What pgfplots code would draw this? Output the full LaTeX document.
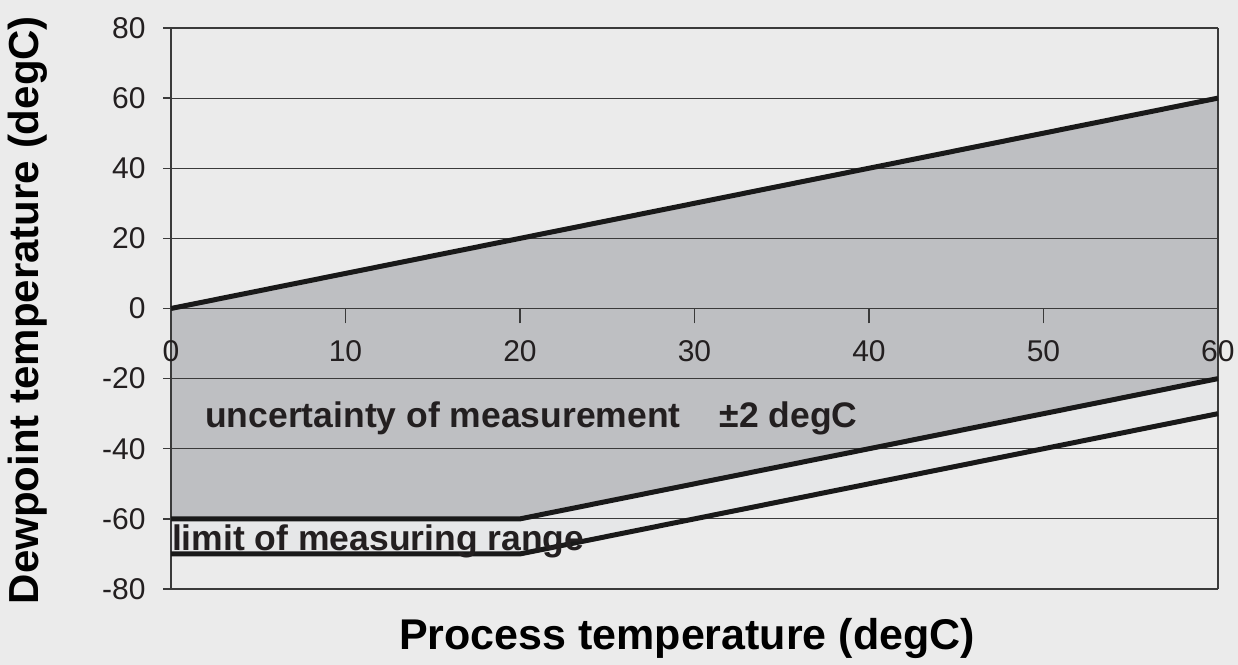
\documentclass[border=0pt]{standalone}
\usepackage{pgfplots}
\pgfplotsset{compat=1.18}
\usepackage{fontspec}
\setmainfont{Liberation Sans}
\definecolor{bgcol}{HTML}{EBEBEB}
\definecolor{darkfill}{HTML}{BEBFC2}
\definecolor{lightfill}{HTML}{E6E7E8}
\definecolor{txt}{HTML}{231F20}
\definecolor{gridc}{HTML}{3A3A3A}
\pagecolor{bgcol}
\begin{document}
\begin{tikzpicture}
\path (0,0) rectangle (1238bp,665bp);
\begin{axis}[
  set layers,
  at={(171bp,76bp)}, anchor=south west,
  scale only axis, width=1047bp, height=561bp,
  xmin=0, xmax=60, ymin=-80, ymax=80,
  axis y line=left, axis x line=middle,
  axis line style={gridc, line width=1.3bp, -},
  xtick={10,20,...,60}, ytick={-80,-60,...,80},
  extra x ticks={0},
  hide obscured x ticks=false,
  tick align=outside,
  major tick length=8bp,
  tick style={gridc, line width=1.3bp},
  xtick style={/pgfplots/major tick length=15bp},
  ymajorgrids,
  grid style={gridc, line width=1.2bp},
  /pgf/number format/assume math mode=true,
  tick label style={font=\fontsize{30bp}{34bp}\selectfont, text=txt},
  xticklabel style={yshift=-21bp},
  yticklabel style={xshift=-14bp},
  clip=false,
]
\addplot[fill=darkfill, draw=none, on layer=axis background] coordinates {(0,0) (60,60) (60,-20) (20,-60) (0,-60)};
\addplot[fill=lightfill, draw=none, on layer=axis background] coordinates {(0,-60) (20,-60) (60,-20) (60,-30) (20,-70) (0,-70)};
\draw[gridc, line width=1.3bp] (axis cs:60,-80) -- (axis cs:60,80);
\addplot[black!90, line width=5bp] coordinates {(0,0) (60,60)};
\addplot[black!90, line width=5bp] coordinates {(0,-60) (20,-60) (60,-20)};
\addplot[black!90, line width=5bp] coordinates {(0,-70) (20,-70) (60,-30)};
\node[anchor=base west, inner sep=0pt, text=txt, font=\fontsize{35.5bp}{40bp}\selectfont\bfseries] at (axis cs:1.95,-34) {uncertainty of measurement\hspace{1.1em}±2 degC};
\node[anchor=base west, inner sep=0pt, text=txt, font=\fontsize{35.5bp}{40bp}\selectfont\bfseries] at (axis cs:0.05,-68.9) {limit of measuring range};
\end{axis}
\node[rotate=90, font=\fontsize{42bp}{48bp}\selectfont\bfseries] at (28bp,355bp) {Dewpoint temperature (degC)};
\node[font=\fontsize{43bp}{48bp}\selectfont\bfseries] at (687bp,27bp) {Process temperature (degC)};
\end{tikzpicture}
\end{document}
